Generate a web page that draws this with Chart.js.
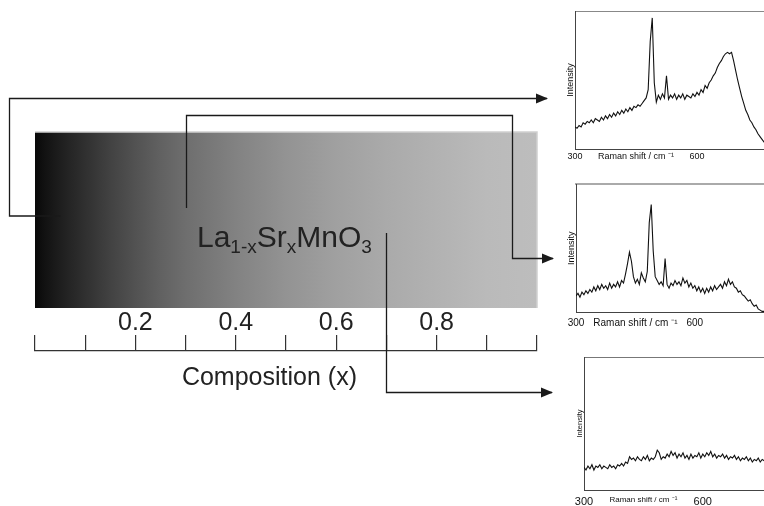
<!DOCTYPE html>
<html><head><meta charset="utf-8">
<script src="https://cdn.jsdelivr.net/npm/chart.js@4.4.0/dist/chart.umd.min.js"></script>
<style>
html,body{margin:0;padding:0;background:#fff;overflow:hidden;width:764px;height:506px;}
#wrap{position:relative;width:764px;height:506px;overflow:hidden;background:#fff;}
canvas{position:absolute;}
</style></head><body>
<div id="wrap">
<canvas id="main" width="764" height="506" style="left:0;top:0;"></canvas>
<canvas id="s1" width="230" height="170" style="left:555px;top:0px;"></canvas>
<canvas id="s2" width="225" height="165" style="left:556px;top:170px;"></canvas>
<canvas id="s3" width="230" height="166" style="left:560px;top:340px;"></canvas>
</div>
<script>
// ---------- data ----------
const compTickLabels = ['0.2', '0.4', '0.6', '0.8'];
const sampleComp = [0.05, 0.3, 0.7];            // compositions linked to spectra (top, middle, bottom)
const gradComp = [0, 0.02, 0.05, 0.1, 0.15, 0.2, 0.25, 0.3, 0.4, 0.5, 0.6, 0.7, 0.8, 0.85, 0.9, 1.0];
const gradGray = [8, 18, 30, 48, 66, 82, 97, 110, 130, 147, 160, 170, 178, 182, 186, 189];
const ramanTicks = [300, 450, 600];
const ramanShift = [300,305,310,315,320,325,330,335,340,345,350,355,360,365,370,375,380,385,390,395,
400,405,410,415,420,425,430,435,440,445,450,455,460,465,470,475,480,485,490,495,
500,505,510,515,520,525,530,535,540,545,550,555,560,565,570,575,580,585,590,595,
600,605,610,615,620,625,630,635,640,645,650,655,660,665,670,675,680,685,690,695,
700,705,710,715,720,725,730,735,740,745,750,755,760,765,770,775,780,785,790,795,800];
const spectrumA = [16,15,17,16,19,18,20,19,21,19,22,21,20,23,21,24,22,25,23,26,
24,27,25,28,26,29,27,30,28,31,30,32,31,33,35,37,43,78,95,48,
34,39,36,40,37,53,36,39,37,40,36,39,37,40,36,39,38,37,40,38,
41,39,43,41,46,44,48,50,53,55,59,62,64,67,69,70,69,70,64,57,
50,44,38,33,28,25,21,19,16,14,11,9,7,5,4,3,3,2,2,2,2];
const spectrumB = [13,15,12,16,14,17,15,18,16,20,17,21,18,22,19,21,18,23,19,22,
20,24,20,25,23,30,38,47,40,28,23,26,22,31,27,24,32,70,84,48,
28,25,22,24,21,42,22,19,23,21,25,22,24,21,27,23,25,20,23,19,
21,17,20,16,19,15,19,16,20,17,21,18,20,22,19,24,21,26,22,24,
20,19,16,17,14,13,11,9,10,7,5,6,3,2,1,1,0,0,0,0,0];
const spectrumC = [17,15,18,16,19,15,18,17,19,16,18,17,16,19,17,18,16,19,18,20,
18,21,20,25,23,24,22,25,23,22,25,23,26,22,24,23,25,30,28,23,
25,24,27,25,29,26,28,24,27,25,28,24,26,23,27,24,26,25,28,24,
27,25,28,26,29,25,27,24,26,25,27,24,26,23,25,24,26,23,25,22,
24,23,25,22,24,21,23,22,24,21,23,22,24,22,23,22,23,22,23,22,23];

// ---------- main figure ----------
const FONT = "'Liberation Sans', Arial, sans-serif";
function hexGray(g){ return 'rgb(' + g + ',' + g + ',' + g + ')'; }

function arrowPath(ctx, pts){
  ctx.beginPath();
  ctx.moveTo(pts[0][0], pts[0][1]);
  for (let i = 1; i < pts.length; i++) ctx.lineTo(pts[i][0], pts[i][1]);
  ctx.stroke();
  const [tx, ty] = pts[pts.length - 1];
  ctx.beginPath();
  ctx.moveTo(tx + 1, ty);
  ctx.lineTo(tx - 11, ty - 5);
  ctx.lineTo(tx - 11, ty + 5);
  ctx.closePath();
  ctx.fill();
}

const figPlugin = {
  id: 'fig',
  beforeDraw(chart){
    const ctx = chart.ctx, xs = chart.scales.x;
    const x0 = xs.getPixelForValue(0), x1 = xs.getPixelForValue(1);
    const top = 132, bot = 308;
    const g = ctx.createLinearGradient(x0, 0, x1, 0);
    gradComp.forEach((c, i) => g.addColorStop(c, hexGray(gradGray[i])));
    ctx.save();
    ctx.fillStyle = g;
    ctx.fillRect(x0, top, x1 - x0, bot - top);
    ctx.strokeStyle = '#cfcfcf';
    ctx.lineWidth = 1.5;
    ctx.beginPath();
    ctx.moveTo(x0, top); ctx.lineTo(x1, top); ctx.lineTo(x1, bot);
    ctx.stroke();
    ctx.restore();
  },
  afterDraw(chart){
    const ctx = chart.ctx, xs = chart.scales.x;
    ctx.save();
    // formula
    const parts = [['La',0],['1-x',1],['Sr',0],['x',1],['MnO',0],['3',1]];
    let fx = 197; const fy = 247;
    ctx.fillStyle = '#222';
    ctx.textBaseline = 'alphabetic';
    ctx.textAlign = 'left';
    parts.forEach(([t, sub]) => {
      ctx.font = (sub ? 19 : 30) + 'px ' + FONT;
      ctx.fillText(t, fx, fy + (sub ? 6 : 0));
      fx += ctx.measureText(t).width;
    });
    // axis title
    ctx.font = '25px ' + FONT;
    ctx.fillStyle = '#222';
    ctx.textAlign = 'center';
    ctx.textBaseline = 'middle';
    ctx.fillText('Composition (x)', xs.getPixelForValue(0.467), 378);
    // connectors
    ctx.strokeStyle = '#1a1a1a';
    ctx.fillStyle = '#1a1a1a';
    ctx.lineWidth = 1.3;
    const a = xs.getPixelForValue(sampleComp[0]);
    const b = Math.round(xs.getPixelForValue(sampleComp[1])) + 0.5;
    const c = Math.round(xs.getPixelForValue(sampleComp[2])) + 0.5;
    arrowPath(ctx, [[a, 216], [9.5, 216], [9.5, 98.5], [547, 98.5]]);
    arrowPath(ctx, [[b, 208], [b, 115.5], [512.5, 115.5], [512.5, 258.5], [553, 258.5]]);
    arrowPath(ctx, [[c, 233], [c, 392.5], [552, 392.5]]);
    ctx.restore();
  }
};

new Chart(document.getElementById('main'), {
  type: 'scatter',
  data: { datasets: [] },
  options: {
    responsive: false,
    animation: false,
    layout: { padding: { left: 35, right: 227, top: 291, bottom: 140 } },
    plugins: { legend: { display: false }, tooltip: { enabled: false } },
    scales: {
      x: {
        type: 'linear', position: 'top', min: 0, max: 1,
        afterFit: s => { s.height = 60; },
        grid: { drawOnChartArea: false, tickLength: 16, color: '#333', lineWidth: 1.2 },
        border: { display: true, color: '#333', width: 1.2 },
        ticks: {
          stepSize: 0.1, autoSkip: false, maxRotation: 0, padding: -1,
          color: '#222', font: { family: FONT, size: 25, lineHeight: 1 },
          callback: v => { const t = (Math.round(v * 10) / 10).toFixed(1); return compTickLabels.includes(t) ? t : ''; }
        }
      },
      y: { display: false, min: 0, max: 1 }
    }
  },
  plugins: [figPlugin]
});

// ---------- spectra ----------
function makeSpectrum(id, values, cfg){
  new Chart(document.getElementById(id), {
    type: 'line',
    data: { datasets: [{ data: ramanShift.map((x, i) => ({ x: x, y: values[i] })),
      borderColor: '#111', borderWidth: 1.1, pointRadius: 0, tension: 0, fill: false }] },
    options: {
      responsive: false, animation: false,
      layout: { padding: { left: 0, right: cfg.padR, top: cfg.padT, bottom: 0 } },
      plugins: { legend: { display: false }, tooltip: { enabled: false } },
      scales: {
        x: {
          type: 'linear', position: 'bottom', min: 300, max: 800,
          afterBuildTicks: s => { s.ticks = ramanTicks.map(v => ({ value: v })); },
          afterFit: s => { s.height = cfg.xH; },
          grid: { display: false, drawTicks: false },
          border: { display: true, color: '#444', width: 1 },
          ticks: {
            autoSkip: false, maxRotation: 0, minRotation: 0, padding: cfg.tickPad, color: '#111',
            font: ctx => (ctx.tick && ctx.tick.value === 450) ? { family: FONT, size: cfg.titleSize } : { family: FONT, size: cfg.numSize },
            callback: v => v === 450 ? 'Raman shift / cm \u207B\u00B9' : String(v)
          }
        },
        xTop: {
          type: 'linear', position: 'top', min: 300, max: 800, display: true,
          afterFit: s => { s.height = 0; },
          grid: { display: false, drawTicks: false },
          ticks: { display: false },
          border: { display: true, color: cfg.topColor, width: cfg.topWidth }
        },
        y: {
          min: 0, max: 100,
          afterFit: s => { s.width = cfg.yW; },
          grid: { display: false, drawTicks: false },
          ticks: { display: false },
          border: { display: true, color: '#444', width: 1 },
          title: { display: true, text: 'Intensity', color: '#111',
            font: { family: FONT, size: cfg.intSize }, padding: { top: cfg.intPad, bottom: 0 } }
        }
      }
    }
  });
}

makeSpectrum('s1', spectrumA, { padR: 6.7, padT: 11, xH: 21, yW: 20, tickPad: 2.6, numSize: 9, titleSize: 9, intSize: 9, intPad: 10.3, topColor: '#888', topWidth: 1 });
makeSpectrum('s2', spectrumB, { padR: 7, padT: 14, xH: 22.3, yW: 20, tickPad: 4.6, numSize: 10, titleSize: 10, intSize: 9, intPad: 10.3, topColor: '#aaa', topWidth: 2 });
makeSpectrum('s3', spectrumC, { padR: 8, padT: 17, xH: 16, yW: 24, tickPad: 5.1, numSize: 11, titleSize: 8, intSize: 7.5, intPad: 15.5, topColor: '#777', topWidth: 1 });
</script>
</body></html>
